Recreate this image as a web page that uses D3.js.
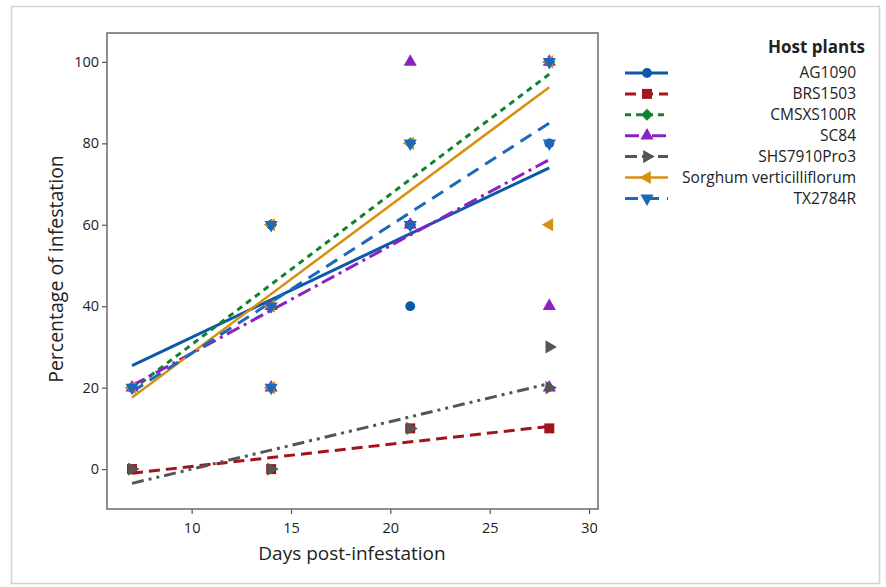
<!DOCTYPE html>
<html>
<head>
<meta charset="utf-8">
<script src="https://cdn.jsdelivr.net/npm/d3@7"></script>
<style>
  body { margin: 0; background: #fff; }
  svg text { font-family: "Open Sans", "Noto Sans", sans-serif; fill: #222; }
</style>
</head>
<body>
<div id="chart"></div>
<script>
var width = 886,
    height = 587;

// Host plants, in legend order
var hosts = ["AG1090", "BRS1503", "CMSXS100R", "SC84", "SHS7910Pro3",
             "Sorghum verticilliflorum", "TX2784R"];

// observed points per host: [day, % infestation]
var pointsAG1090 = [[7, 20], [14, 60], [21, 40], [21, 60], [28, 80]];
var pointsBRS1503 = [[7, 0], [14, 0], [21, 10], [28, 10]];
var pointsCMSXS100R = [[7, 20], [14, 40], [14, 60], [21, 60], [21, 80], [28, 100]];
var pointsSC84 = [[7, 20], [14, 20], [14, 40], [21, 60], [21, 100], [28, 20], [28, 40], [28, 100]];
var pointsSHS7910Pro3 = [[7, 0], [14, 0], [21, 10], [28, 20], [28, 30]];
var pointsSorghum = [[7, 20], [14, 20], [14, 40], [14, 60], [21, 80], [28, 60], [28, 100]];
var pointsTX2784R = [[7, 20], [14, 20], [14, 40], [14, 60], [21, 60], [21, 80], [28, 80], [28, 100]];

// fitted regression values at day 7 and day 28
var fitDays = [7, 28];
var fitAG1090 = [25.4, 74];
var fitBRS1503 = [-1, 10.5];
var fitCMSXS100R = [19.5, 97];
var fitSC84 = [20.5, 76];
var fitSHS7910Pro3 = [-3.5, 21];
var fitSorghum = [17.6, 93.8];
var fitTX2784R = [19, 85];

var xTicks = [10, 15, 20, 25, 30];
var yTicks = [0, 20, 40, 60, 80, 100];

var series = [
  {name: hosts[0], pts: pointsAG1090, fit: fitAG1090, color: "#0b5aa8", dash: null, lw: 3, sym: "circle", size: 75},
  {name: hosts[1], pts: pointsBRS1503, fit: fitBRS1503, color: "#a3141a", dash: "11,6", lw: 3, sym: "square", size: 100},
  {name: hosts[2], pts: pointsCMSXS100R, fit: fitCMSXS100R, color: "#11822f", dash: "6,5", lw: 3, sym: "diamond", size: 72},
  {name: hosts[3], pts: pointsSC84, fit: fitSC84, color: "#8a22c2", dash: "14,5,3,5", lw: 3, sym: "up", size: 75},
  {name: hosts[4], pts: pointsSHS7910Pro3, fit: fitSHS7910Pro3, color: "#555555", dash: "12,5,3,5,3,5", lw: 3, sym: "right", size: 75},
  {name: hosts[5], pts: pointsSorghum, fit: fitSorghum, color: "#d98f0f", dash: null, lw: 2.5, sym: "left", size: 75},
  {name: hosts[6], pts: pointsTX2784R, fit: fitTX2784R, color: "#1d68b8", dash: "13,8", lw: 3, sym: "down", size: 75}
];

var plot = {left: 107, top: 33, width: 491, height: 476};

var x = d3.scaleLinear().domain([5.74, 30.45]).range([0, plot.width]);
var y = d3.scaleLinear().domain([-9.8, 107.1]).range([plot.height, 0]);

function symbolPath(s) {
  var tri = d3.symbol().type(d3.symbolTriangle).size(s.size)();
  var sq = d3.symbol().type(d3.symbolSquare).size(s.size)();
  switch (s.sym) {
    case "circle": return {d: d3.symbol().type(d3.symbolCircle).size(s.size)(), rot: 0};
    case "square": return {d: sq, rot: 0};
    case "diamond": return {d: sq, rot: 45};
    case "up": return {d: tri, rot: 0};
    case "right": return {d: tri, rot: 90};
    case "left": return {d: tri, rot: -90};
    default: return {d: tri, rot: 180};
  }
}

var svg = d3.select("#chart").append("svg")
    .attr("width", width)
    .attr("height", height);

// outer figure border
svg.append("rect")
    .attr("x", 11.5).attr("y", 6.5)
    .attr("width", 868).attr("height", 577)
    .attr("fill", "none")
    .attr("stroke", "#d2d2d2")
    .attr("stroke-width", 1.5);

var g = svg.append("g")
    .attr("transform", "translate(" + plot.left + "," + plot.top + ")");

svg.append("defs").append("clipPath").attr("id", "clip")
    .append("rect").attr("width", plot.width).attr("height", plot.height);

// axes
var xAxis = g.append("g")
    .attr("transform", "translate(0," + plot.height + ")")
    .call(d3.axisBottom(x).tickValues(xTicks).tickSize(5).tickPadding(9));
var yAxis = g.append("g")
    .call(d3.axisLeft(y).tickValues(yTicks).tickSize(5).tickPadding(3));

[xAxis, yAxis].forEach(function (a) {
  a.select(".domain").remove();
  a.selectAll("line").attr("stroke", "#555").attr("stroke-width", 1.2);
  a.selectAll("text").style("font-size", "14.5px").attr("fill", "#1a1a1a");
});

// frame
g.append("rect")
    .attr("width", plot.width).attr("height", plot.height)
    .attr("fill", "none").attr("stroke", "#6a6a6a").attr("stroke-width", 1.5);

var body = g.append("g").attr("clip-path", "url(#clip)");

// fitted lines
var line = d3.line()
    .x(function (d) { return x(d[0]); })
    .y(function (d) { return y(d[1]); });

series.forEach(function (s) {
  body.append("path")
      .datum(fitDays.map(function (d, i) { return [d, s.fit[i]]; }))
      .attr("d", line)
      .attr("fill", "none")
      .attr("stroke", s.color)
      .attr("stroke-width", s.lw)
      .attr("stroke-dasharray", s.dash);
});

// points
series.forEach(function (s) {
  var sp = symbolPath(s);
  body.selectAll(null)
      .data(s.pts)
      .enter().append("path")
      .attr("d", sp.d)
      .attr("transform", function (d) {
        return "translate(" + x(d[0]) + "," + y(d[1]) + ") rotate(" + sp.rot + ")";
      })
      .attr("fill", s.color);
});

// axis titles
svg.append("text")
    .attr("x", 352).attr("y", 560)
    .attr("text-anchor", "middle")
    .style("font-size", "19px")
    .text("Days post-infestation");

svg.append("text")
    .attr("transform", "translate(63,269) rotate(-90)")
    .attr("text-anchor", "middle")
    .style("font-size", "19.5px")
    .text("Percentage of infestation");

// legend
var legend = svg.append("g");
legend.append("text")
    .attr("x", 865).attr("y", 53)
    .attr("text-anchor", "end")
    .style("font-size", "17px")
    .style("font-weight", "bold")
    .attr("fill", "#111")
    .text("Host plants");

series.forEach(function (s, i) {
  var ly = 73 + i * 20.9;
  var row = legend.append("g").attr("transform", "translate(0," + ly + ")");
  row.append("line")
      .attr("x1", 625).attr("x2", 668)
      .attr("stroke", s.color)
      .attr("stroke-width", s.lw)
      .attr("stroke-dasharray", s.dash);
  var sp = symbolPath(s);
  row.append("path")
      .attr("d", sp.d)
      .attr("transform", "translate(647,0) rotate(" + sp.rot + ")")
      .attr("fill", s.color);
  row.append("text")
      .attr("x", 856).attr("y", 0)
      .attr("dy", "0.35em")
      .attr("text-anchor", "end")
      .style("font-size", "15.5px")
      .text(s.name);
});
</script>
</body>
</html>
